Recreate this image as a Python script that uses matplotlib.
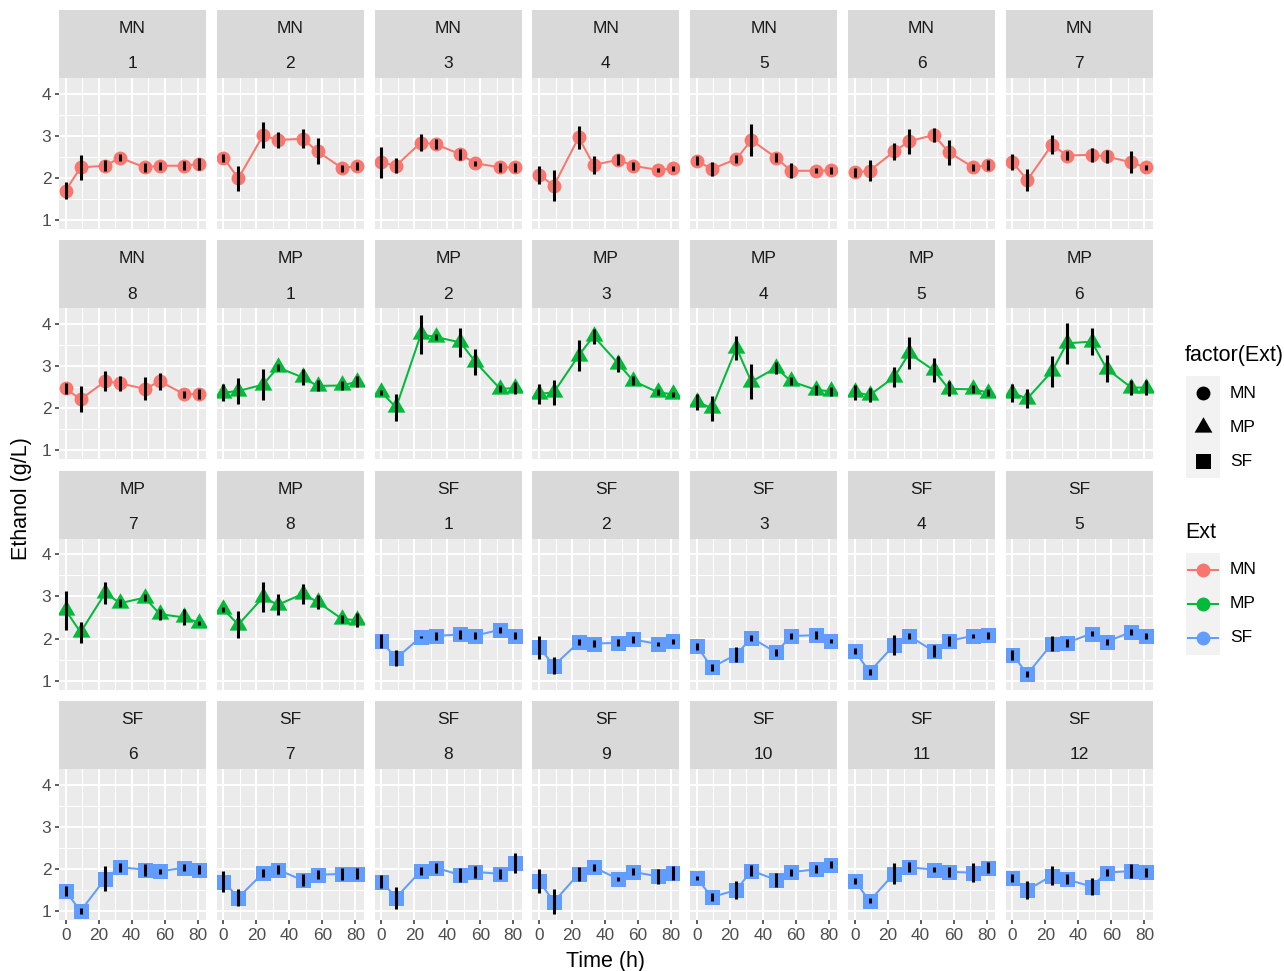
import numpy as np
import matplotlib
matplotlib.use("Agg")
import matplotlib.pyplot as plt
from matplotlib.path import Path
from matplotlib.patches import Rectangle
from matplotlib.lines import Line2D

plt.rcParams["font.family"] = ["Liberation Sans", "DejaVu Sans"]

times = [0, 9, 24, 33, 48, 57, 72, 81]
ext_names = ["MN", "MP", "SF"]

mn_mean = [
    [1.70, 2.25, 2.29, 2.48, 2.25, 2.29, 2.29, 2.33],
    [2.48, 1.99, 3.01, 2.90, 2.93, 2.63, 2.23, 2.29],
    [2.37, 2.29, 2.84, 2.80, 2.56, 2.35, 2.25, 2.25],
    [2.07, 1.82, 2.96, 2.31, 2.43, 2.29, 2.19, 2.23],
    [2.41, 2.21, 2.45, 2.90, 2.48, 2.17, 2.17, 2.18],
    [2.13, 2.17, 2.63, 2.87, 3.02, 2.61, 2.25, 2.31],
    [2.37, 1.95, 2.79, 2.53, 2.55, 2.51, 2.37, 2.25],
    [2.47, 2.21, 2.64, 2.59, 2.46, 2.64, 2.33, 2.34],
]
mn_err = [
    [0.20, 0.30, 0.13, 0.08, 0.11, 0.09, 0.11, 0.15],
    [0.09, 0.29, 0.31, 0.19, 0.23, 0.31, 0.08, 0.09],
    [0.36, 0.18, 0.20, 0.12, 0.13, 0.06, 0.11, 0.11],
    [0.21, 0.36, 0.27, 0.21, 0.13, 0.09, 0.05, 0.06],
    [0.11, 0.16, 0.09, 0.37, 0.10, 0.18, 0.06, 0.09],
    [0.10, 0.25, 0.21, 0.30, 0.16, 0.30, 0.08, 0.11],
    [0.19, 0.26, 0.22, 0.11, 0.16, 0.16, 0.26, 0.06],
    [0.12, 0.31, 0.24, 0.17, 0.27, 0.20, 0.08, 0.12],
]
mp_mean = [
    [2.37, 2.41, 2.56, 2.97, 2.73, 2.53, 2.54, 2.63],
    [2.38, 2.02, 3.75, 3.69, 3.56, 3.10, 2.46, 2.48],
    [2.34, 2.38, 3.25, 3.71, 3.06, 2.65, 2.38, 2.33],
    [2.16, 2.00, 3.43, 2.63, 2.96, 2.64, 2.44, 2.40],
    [2.38, 2.31, 2.74, 3.30, 2.90, 2.46, 2.45, 2.37],
    [2.36, 2.23, 2.88, 3.54, 3.58, 2.94, 2.49, 2.49],
    [2.67, 2.15, 3.08, 2.84, 2.97, 2.58, 2.50, 2.37],
    [2.69, 2.33, 2.98, 2.80, 3.06, 2.87, 2.46, 2.44],
]
mp_err = [
    [0.20, 0.30, 0.37, 0.09, 0.19, 0.13, 0.10, 0.13],
    [0.06, 0.33, 0.46, 0.06, 0.34, 0.31, 0.08, 0.14],
    [0.23, 0.30, 0.36, 0.18, 0.19, 0.11, 0.07, 0.06],
    [0.19, 0.30, 0.29, 0.42, 0.14, 0.10, 0.12, 0.10],
    [0.18, 0.16, 0.24, 0.38, 0.28, 0.18, 0.09, 0.09],
    [0.22, 0.22, 0.37, 0.49, 0.32, 0.32, 0.17, 0.17],
    [0.46, 0.25, 0.25, 0.09, 0.08, 0.13, 0.19, 0.05],
    [0.06, 0.32, 0.35, 0.25, 0.23, 0.16, 0.09, 0.17],
]
sf_mean = [
    [1.94, 1.53, 2.04, 2.06, 2.10, 2.07, 2.21, 2.07],
    [1.79, 1.36, 1.91, 1.88, 1.90, 1.98, 1.87, 1.94],
    [1.82, 1.32, 1.62, 2.02, 1.67, 2.06, 2.08, 1.94],
    [1.71, 1.21, 1.85, 2.06, 1.70, 1.94, 2.07, 2.08],
    [1.62, 1.16, 1.88, 1.90, 2.12, 1.92, 2.16, 2.07],
    [1.47, 1.00, 1.77, 2.04, 1.98, 1.94, 2.03, 1.98],
    [1.70, 1.32, 1.90, 1.98, 1.73, 1.86, 1.88, 1.89],
    [1.70, 1.32, 1.95, 2.03, 1.85, 1.93, 1.88, 2.14],
    [1.71, 1.22, 1.88, 2.04, 1.76, 1.93, 1.82, 1.90],
    [1.78, 1.33, 1.50, 1.96, 1.74, 1.92, 1.99, 2.10],
    [1.72, 1.24, 1.89, 2.04, 1.98, 1.93, 1.91, 2.03],
    [1.79, 1.50, 1.84, 1.75, 1.58, 1.91, 1.95, 1.92],
]
sf_err = [
    [0.16, 0.19, 0.03, 0.09, 0.10, 0.08, 0.07, 0.08],
    [0.28, 0.20, 0.07, 0.08, 0.08, 0.09, 0.05, 0.06],
    [0.08, 0.08, 0.18, 0.07, 0.08, 0.07, 0.09, 0.05],
    [0.07, 0.07, 0.23, 0.08, 0.14, 0.11, 0.05, 0.08],
    [0.12, 0.06, 0.18, 0.10, 0.05, 0.08, 0.07, 0.07],
    [0.12, 0.08, 0.30, 0.11, 0.14, 0.05, 0.08, 0.10],
    [0.25, 0.21, 0.09, 0.10, 0.14, 0.11, 0.15, 0.12],
    [0.15, 0.26, 0.09, 0.12, 0.16, 0.14, 0.12, 0.24],
    [0.29, 0.30, 0.17, 0.08, 0.05, 0.08, 0.17, 0.17],
    [0.05, 0.09, 0.22, 0.13, 0.17, 0.08, 0.09, 0.09],
    [0.07, 0.06, 0.24, 0.12, 0.06, 0.12, 0.22, 0.13],
    [0.10, 0.22, 0.23, 0.12, 0.21, 0.08, 0.17, 0.11],
]

colors = {"MN": "#F8766D", "MP": "#00BA38", "SF": "#619CFF"}

# R-style filled triangle (centroid at the point)
tri = Path([(0, 1), (np.sqrt(3) / 2, -0.5), (-np.sqrt(3) / 2, -0.5), (0, 1)],
           [Path.MOVETO, Path.LINETO, Path.LINETO, Path.CLOSEPOLY])
markers = {"MN": ("o", 10.0), "MP": (tri, 14.8), "SF": ("s", 10.8)}

# panel list in facet_wrap order
panels = []
for ext, means, errs in [("MN", mn_mean, mn_err), ("MP", mp_mean, mp_err), ("SF", sf_mean, sf_err)]:
    for i in range(len(means)):
        panels.append((ext, i + 1, means[i], errs[i]))

W, H = 1284, 971
fig = plt.figure(figsize=(W / 100, H / 100), dpi=100)

ncol, nrow = 7, 4
left0, col_pitch, panel_w = 59, 157.8, 147
top0, row_pitch = 10, 230.3
strip_h, panel_h = 68, 151

tick_col = "#4D4D4D"


def frac(x, y, w, h):
    return [x / W, 1 - (y + h) / H, w / W, h / H]


for k, (ext, num, mean, err) in enumerate(panels):
    r, c = divmod(k, ncol)
    x = left0 + c * col_pitch
    y = top0 + r * row_pitch

    sax = fig.add_axes(frac(x, y, panel_w, strip_h))
    sax.set_facecolor("#D9D9D9")
    sax.set_xticks([])
    sax.set_yticks([])
    for s in sax.spines.values():
        s.set_visible(False)
    sax.text(0.5, 0.659, ext, ha="center", va="baseline", fontsize=12.5,
             color="#1A1A1A", transform=sax.transAxes)
    sax.text(0.5, 0.144, str(num), ha="center", va="baseline", fontsize=12.5,
             color="#1A1A1A", transform=sax.transAxes)

    ax = fig.add_axes(frac(x, y + strip_h, panel_w, panel_h))
    ax.set_facecolor("#EBEBEB")
    for s in ax.spines.values():
        s.set_visible(False)
    ax.set_xlim(-4.05, 85.05)
    ax.set_ylim(0.79, 4.37)
    ax.set_xticks([0, 20, 40, 60, 80])
    ax.set_xticks([10, 30, 50, 70], minor=True)
    ax.set_yticks([1, 2, 3, 4])
    ax.set_yticks([1.5, 2.5, 3.5], minor=True)
    ax.grid(which="major", color="white", linewidth=1.45)
    ax.grid(which="minor", color="white", linewidth=0.72)
    ax.set_axisbelow(True)
    ax.tick_params(which="minor", length=0)
    ax.tick_params(which="major", length=3, width=1.1, color="#333333",
                   labelcolor=tick_col, labelsize=12.4, pad=2.5)
    if c != 0:
        ax.tick_params(axis="y", which="major", length=0, labelleft=False)
    if r != nrow - 1:
        ax.tick_params(axis="x", which="major", length=0, labelbottom=False)

    col = colors[ext]
    mk, ms = markers[ext]
    ax.plot(times, mean, color=col, lw=1.45, zorder=2)
    ax.plot(times, mean, linestyle="none", marker=mk, markersize=ms,
            markerfacecolor=col, markeredgewidth=0, zorder=3)
    ax.errorbar(times, mean, yerr=err, fmt="none", ecolor="black",
                elinewidth=2.2, capsize=0, zorder=4)

fig.text(22 / W, 1 - 499 / H, "Ethanol (g/L)", rotation=90, ha="center",
         va="center", fontsize=15.5)
fig.text(606 / W, 1 - 961 / H, "Time (h)", ha="center", va="center",
         fontsize=15.5)

# legends drawn in a pixel-space overlay
lax = fig.add_axes([0, 0, 1, 1], zorder=-1)
lax.set_xlim(0, W)
lax.set_ylim(H, 0)
lax.axis("off")

key_x, key_w, key_h = 1186, 34, 34
label_x = 1230

lax.text(1185, 356, "factor(Ext)", ha="left", va="center", fontsize=15.5)
for i, ext in enumerate(ext_names):
    cy = 393 + i * key_h
    lax.add_patch(Rectangle((key_x, cy - key_h / 2), key_w, key_h,
                            facecolor="#F2F2F2", edgecolor="none"))
    mk, ms = markers[ext]
    lax.add_line(Line2D([key_x + key_w / 2], [cy], marker=mk, markersize=ms,
                        markerfacecolor="black", markeredgewidth=0,
                        linestyle="none"))
    lax.text(label_x, cy, ext, ha="left", va="center", fontsize=12.5)

lax.text(1185, 532, "Ext", ha="left", va="center", fontsize=15.5)
for i, ext in enumerate(ext_names):
    cy = 570 + i * key_h
    lax.add_patch(Rectangle((key_x, cy - key_h / 2), key_w, key_h,
                            facecolor="#F2F2F2", edgecolor="none"))
    lax.add_line(Line2D([key_x + 2, key_x + key_w - 2], [cy, cy],
                        color=colors[ext], lw=1.45))
    lax.add_line(Line2D([key_x + key_w / 2], [cy], marker="o", markersize=10.0,
                        markerfacecolor=colors[ext], markeredgewidth=0,
                        linestyle="none"))
    lax.text(label_x, cy, ext, ha="left", va="center", fontsize=12.5)

fig.savefig("out.png", dpi=100)
